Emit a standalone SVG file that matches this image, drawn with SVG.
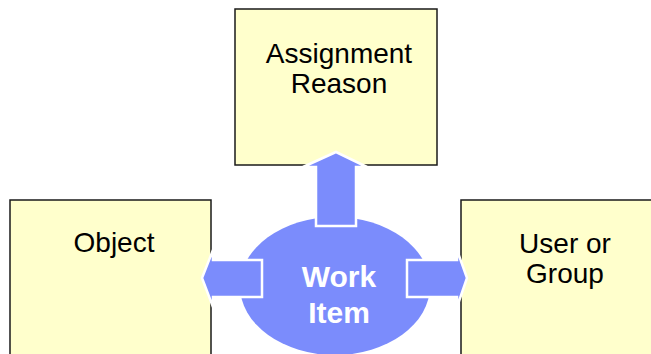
<svg xmlns="http://www.w3.org/2000/svg" width="651" height="354" viewBox="0 0 651 354">
  <style>
    .box { fill: #FFFFCC; stroke: #1a1a1a; stroke-width: 1.5; }
    .label { font-family: "Liberation Sans", Arial, sans-serif; font-size: 28px; fill: #000; text-anchor: middle; }
    .hub { fill: #7B8CFC; }
    .arrow { fill: #7B8CFC; stroke: #FFFFFF; stroke-width: 2.5; stroke-linejoin: miter; }
    .hub-label { font-family: "Liberation Sans", Arial, sans-serif; font-size: 30px; font-weight: bold; fill: #FFFFFF; text-anchor: middle; }
  </style>
  <rect width="651" height="354" fill="#FFFFFF"/>

  <g id="assignment-reason">
    <rect class="box" x="235" y="9" width="202" height="156"/>
    <text class="label" x="339" y="63">Assignment</text>
    <text class="label" x="339" y="93">Reason</text>
  </g>

  <g id="object">
    <rect class="box" x="10" y="200" width="201" height="170"/>
    <text class="label" x="114" y="252">Object</text>
  </g>

  <g id="user-or-group">
    <rect class="box" x="461" y="200" width="210" height="170"/>
    <text class="label" x="565" y="253">User or</text>
    <text class="label" x="565" y="283">Group</text>
  </g>

  <g id="work-item">
    <ellipse class="hub" cx="335" cy="286" rx="95" ry="69"/>
  </g>

  <g id="connectors">
    <!-- up to Assignment Reason -->
    <polygon class="arrow" points="316,226 356,226 356,167 367,167 336,152 303,167 316,167"/>
    <!-- left to Object -->
    <polygon class="arrow" points="262,260 262,297 213,297 213,307 202,278 213,250 213,260"/>
    <!-- right to User or Group -->
    <polygon class="arrow" points="407,260 407,297 457,297 457,307 467,278 457,250 457,260"/>
  </g>

  <g id="work-item-label">
    <text class="hub-label" x="339" y="287">Work</text>
    <text class="hub-label" x="339" y="323">Item</text>
  </g>
</svg>
